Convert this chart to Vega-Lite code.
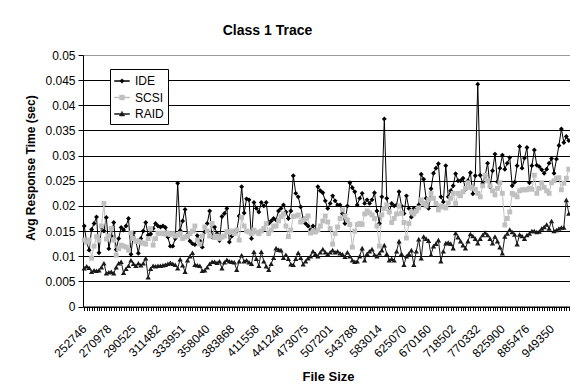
{
"$schema": "https://vega.github.io/schema/vega-lite/v6.json",
"width": 487,
"height": 251.5,
"autosize": {"type": "none"},
"padding": {"left": 83, "top": 55, "right": 0, "bottom": 85.5},
"background": "white",
"config": {"font": "Liberation Sans", "view": {"stroke": null}},
"title": {"text": "Class 1 Trace", "font": "Liberation Sans", "fontSize": 14, "fontWeight": "bold", "color": "#000", "anchor": "middle", "frame": "group", "dx": -59, "offset": 11},
"data": {"values": [
{"size":252746,"IDE":0.0160,"SCSI":0.0132,"RAID":0.0076},
{"size":254513,"IDE":0.0128,"SCSI":0.0128,"RAID":0.0080},
{"size":256292,"IDE":0.0112,"SCSI":0.0132,"RAID":0.0077},
{"size":258084,"IDE":0.0153,"SCSI":0.0096,"RAID":0.0069},
{"size":259889,"IDE":0.0165,"SCSI":0.0120,"RAID":0.0072},
{"size":261703,"IDE":0.0178,"SCSI":0.0139,"RAID":0.0071},
{"size":263533,"IDE":0.0107,"SCSI":0.0132,"RAID":0.0072},
{"size":265376,"IDE":0.0158,"SCSI":0.0160,"RAID":0.0078},
{"size":267231,"IDE":0.0150,"SCSI":0.0205,"RAID":0.0086},
{"size":269099,"IDE":0.0177,"SCSI":0.0134,"RAID":0.0066},
{"size":270978,"IDE":0.0115,"SCSI":0.0140,"RAID":0.0068},
{"size":272872,"IDE":0.0140,"SCSI":0.0155,"RAID":0.0069},
{"size":274780,"IDE":0.0167,"SCSI":0.0132,"RAID":0.0066},
{"size":276701,"IDE":0.0113,"SCSI":0.0102,"RAID":0.0078},
{"size":278636,"IDE":0.0135,"SCSI":0.0115,"RAID":0.0086},
{"size":280582,"IDE":0.0157,"SCSI":0.0122,"RAID":0.0089},
{"size":282543,"IDE":0.0152,"SCSI":0.0120,"RAID":0.0067},
{"size":284519,"IDE":0.0160,"SCSI":0.0118,"RAID":0.0075},
{"size":286508,"IDE":0.0175,"SCSI":0.0112,"RAID":0.0081},
{"size":288510,"IDE":0.0104,"SCSI":0.0146,"RAID":0.0092},
{"size":290525,"IDE":0.0146,"SCSI":0.0135,"RAID":0.0085},
{"size":292556,"IDE":0.0130,"SCSI":0.0130,"RAID":0.0081},
{"size":294601,"IDE":0.0106,"SCSI":0.0130,"RAID":0.0086},
{"size":296661,"IDE":0.0135,"SCSI":0.0128,"RAID":0.0082},
{"size":298735,"IDE":0.0150,"SCSI":0.0126,"RAID":0.0086},
{"size":300821,"IDE":0.0167,"SCSI":0.0124,"RAID":0.0096},
{"size":302925,"IDE":0.0142,"SCSI":0.0135,"RAID":0.0058},
{"size":305043,"IDE":0.0144,"SCSI":0.0155,"RAID":0.0075},
{"size":307175,"IDE":0.0155,"SCSI":0.0122,"RAID":0.0081},
{"size":309322,"IDE":0.0165,"SCSI":0.0135,"RAID":0.0080},
{"size":311482,"IDE":0.0160,"SCSI":0.0146,"RAID":0.0081},
{"size":313659,"IDE":0.0158,"SCSI":0.0145,"RAID":0.0081},
{"size":315852,"IDE":0.0160,"SCSI":0.0146,"RAID":0.0082},
{"size":318061,"IDE":0.0157,"SCSI":0.0144,"RAID":0.0083},
{"size":320285,"IDE":0.0138,"SCSI":0.0146,"RAID":0.0085},
{"size":322521,"IDE":0.0120,"SCSI":0.0143,"RAID":0.0087},
{"size":324776,"IDE":0.0120,"SCSI":0.0145,"RAID":0.0085},
{"size":327047,"IDE":0.0135,"SCSI":0.0140,"RAID":0.0083},
{"size":329333,"IDE":0.0245,"SCSI":0.0142,"RAID":0.0076},
{"size":331635,"IDE":0.0151,"SCSI":0.0145,"RAID":0.0094},
{"size":333951,"IDE":0.0170,"SCSI":0.0135,"RAID":0.0082},
{"size":336285,"IDE":0.0193,"SCSI":0.0138,"RAID":0.0069},
{"size":338636,"IDE":0.0143,"SCSI":0.0140,"RAID":0.0092},
{"size":341004,"IDE":0.0130,"SCSI":0.0145,"RAID":0.0100},
{"size":343389,"IDE":0.0125,"SCSI":0.0150,"RAID":0.0107},
{"size":345786,"IDE":0.0123,"SCSI":0.0160,"RAID":0.0083},
{"size":348204,"IDE":0.0141,"SCSI":0.0132,"RAID":0.0082},
{"size":350639,"IDE":0.0130,"SCSI":0.0124,"RAID":0.0081},
{"size":353090,"IDE":0.0118,"SCSI":0.0140,"RAID":0.0071},
{"size":355558,"IDE":0.0148,"SCSI":0.0158,"RAID":0.0072},
{"size":358040,"IDE":0.0165,"SCSI":0.0150,"RAID":0.0078},
{"size":360543,"IDE":0.0190,"SCSI":0.0140,"RAID":0.0085},
{"size":363063,"IDE":0.0138,"SCSI":0.0165,"RAID":0.0089},
{"size":365602,"IDE":0.0158,"SCSI":0.0137,"RAID":0.0089},
{"size":368158,"IDE":0.0145,"SCSI":0.0140,"RAID":0.0087},
{"size":370729,"IDE":0.0131,"SCSI":0.0135,"RAID":0.0090},
{"size":373321,"IDE":0.0179,"SCSI":0.0138,"RAID":0.0076},
{"size":375931,"IDE":0.0185,"SCSI":0.0140,"RAID":0.0088},
{"size":378559,"IDE":0.0195,"SCSI":0.0149,"RAID":0.0093},
{"size":381205,"IDE":0.0128,"SCSI":0.0148,"RAID":0.0090},
{"size":383868,"IDE":0.0140,"SCSI":0.0150,"RAID":0.0089},
{"size":386551,"IDE":0.0148,"SCSI":0.0145,"RAID":0.0088},
{"size":389254,"IDE":0.0150,"SCSI":0.0152,"RAID":0.0073},
{"size":391975,"IDE":0.0180,"SCSI":0.0132,"RAID":0.0090},
{"size":394716,"IDE":0.0238,"SCSI":0.0177,"RAID":0.0102},
{"size":397472,"IDE":0.0186,"SCSI":0.0160,"RAID":0.0090},
{"size":400251,"IDE":0.0214,"SCSI":0.0150,"RAID":0.0092},
{"size":403050,"IDE":0.0212,"SCSI":0.0148,"RAID":0.0088},
{"size":405867,"IDE":0.0135,"SCSI":0.0145,"RAID":0.0085},
{"size":408704,"IDE":0.0207,"SCSI":0.0152,"RAID":0.0109},
{"size":411558,"IDE":0.0195,"SCSI":0.0148,"RAID":0.0095},
{"size":414435,"IDE":0.0188,"SCSI":0.0145,"RAID":0.0081},
{"size":417332,"IDE":0.0207,"SCSI":0.0150,"RAID":0.0109},
{"size":420250,"IDE":0.0200,"SCSI":0.0155,"RAID":0.0090},
{"size":423189,"IDE":0.0207,"SCSI":0.0165,"RAID":0.0080},
{"size":426144,"IDE":0.0165,"SCSI":0.0145,"RAID":0.0073},
{"size":429123,"IDE":0.0170,"SCSI":0.0152,"RAID":0.0085},
{"size":432124,"IDE":0.0175,"SCSI":0.0160,"RAID":0.0097},
{"size":435144,"IDE":0.0172,"SCSI":0.0160,"RAID":0.0116},
{"size":438186,"IDE":0.0190,"SCSI":0.0170,"RAID":0.0113},
{"size":441246,"IDE":0.0195,"SCSI":0.0179,"RAID":0.0112},
{"size":444330,"IDE":0.0202,"SCSI":0.0184,"RAID":0.0097},
{"size":447437,"IDE":0.0188,"SCSI":0.0160,"RAID":0.0103},
{"size":450565,"IDE":0.0175,"SCSI":0.0139,"RAID":0.0095},
{"size":453716,"IDE":0.0190,"SCSI":0.0152,"RAID":0.0084},
{"size":456884,"IDE":0.0260,"SCSI":0.0179,"RAID":0.0083},
{"size":460078,"IDE":0.0225,"SCSI":0.0180,"RAID":0.0095},
{"size":463295,"IDE":0.0218,"SCSI":0.0182,"RAID":0.0107},
{"size":466534,"IDE":0.0198,"SCSI":0.0168,"RAID":0.0097},
{"size":469795,"IDE":0.0175,"SCSI":0.0172,"RAID":0.0084},
{"size":473075,"IDE":0.0165,"SCSI":0.0175,"RAID":0.0090},
{"size":476382,"IDE":0.0160,"SCSI":0.0180,"RAID":0.0096},
{"size":479712,"IDE":0.0152,"SCSI":0.0146,"RAID":0.0100},
{"size":483066,"IDE":0.0160,"SCSI":0.0150,"RAID":0.0110},
{"size":486444,"IDE":0.0149,"SCSI":0.0148,"RAID":0.0105},
{"size":489841,"IDE":0.0238,"SCSI":0.0152,"RAID":0.0100},
{"size":493266,"IDE":0.0230,"SCSI":0.0160,"RAID":0.0108},
{"size":496715,"IDE":0.0226,"SCSI":0.0170,"RAID":0.0114},
{"size":500188,"IDE":0.0210,"SCSI":0.0180,"RAID":0.0108},
{"size":503683,"IDE":0.0195,"SCSI":0.0168,"RAID":0.0104},
{"size":507201,"IDE":0.0205,"SCSI":0.0155,"RAID":0.0108},
{"size":510746,"IDE":0.0220,"SCSI":0.0124,"RAID":0.0112},
{"size":514317,"IDE":0.0210,"SCSI":0.0145,"RAID":0.0108},
{"size":517913,"IDE":0.0202,"SCSI":0.0158,"RAID":0.0110},
{"size":521535,"IDE":0.0202,"SCSI":0.0175,"RAID":0.0106},
{"size":525176,"IDE":0.0185,"SCSI":0.0192,"RAID":0.0104},
{"size":528848,"IDE":0.0165,"SCSI":0.0180,"RAID":0.0099},
{"size":532546,"IDE":0.0200,"SCSI":0.0172,"RAID":0.0108},
{"size":536269,"IDE":0.0246,"SCSI":0.0163,"RAID":0.0100},
{"size":540017,"IDE":0.0236,"SCSI":0.0118,"RAID":0.0092},
{"size":543788,"IDE":0.0228,"SCSI":0.0150,"RAID":0.0089},
{"size":547589,"IDE":0.0202,"SCSI":0.0163,"RAID":0.0090},
{"size":551417,"IDE":0.0215,"SCSI":0.0165,"RAID":0.0100},
{"size":555273,"IDE":0.0225,"SCSI":0.0163,"RAID":0.0116},
{"size":559156,"IDE":0.0205,"SCSI":0.0184,"RAID":0.0092},
{"size":563060,"IDE":0.0212,"SCSI":0.0190,"RAID":0.0105},
{"size":566997,"IDE":0.0205,"SCSI":0.0186,"RAID":0.0110},
{"size":570961,"IDE":0.0212,"SCSI":0.0182,"RAID":0.0114},
{"size":574953,"IDE":0.0226,"SCSI":0.0175,"RAID":0.0103},
{"size":578971,"IDE":0.0190,"SCSI":0.0160,"RAID":0.0100},
{"size":583014,"IDE":0.0165,"SCSI":0.0120,"RAID":0.0106},
{"size":587089,"IDE":0.0218,"SCSI":0.0182,"RAID":0.0112},
{"size":591194,"IDE":0.0373,"SCSI":0.0195,"RAID":0.0122},
{"size":595327,"IDE":0.0215,"SCSI":0.0202,"RAID":0.0105},
{"size":599490,"IDE":0.0188,"SCSI":0.0188,"RAID":0.0092},
{"size":603676,"IDE":0.0205,"SCSI":0.0167,"RAID":0.0095},
{"size":607897,"IDE":0.0200,"SCSI":0.0175,"RAID":0.0092},
{"size":612147,"IDE":0.0202,"SCSI":0.0184,"RAID":0.0110},
{"size":616427,"IDE":0.0228,"SCSI":0.0200,"RAID":0.0130},
{"size":620735,"IDE":0.0200,"SCSI":0.0185,"RAID":0.0105},
{"size":625070,"IDE":0.0185,"SCSI":0.0167,"RAID":0.0083},
{"size":629439,"IDE":0.0220,"SCSI":0.0136,"RAID":0.0100},
{"size":633840,"IDE":0.0195,"SCSI":0.0165,"RAID":0.0105},
{"size":638272,"IDE":0.0178,"SCSI":0.0188,"RAID":0.0112},
{"size":642735,"IDE":0.0195,"SCSI":0.0184,"RAID":0.0083},
{"size":647223,"IDE":0.0190,"SCSI":0.0190,"RAID":0.0110},
{"size":651748,"IDE":0.0202,"SCSI":0.0196,"RAID":0.0134},
{"size":656305,"IDE":0.0263,"SCSI":0.0212,"RAID":0.0096},
{"size":660893,"IDE":0.0253,"SCSI":0.0205,"RAID":0.0139},
{"size":665512,"IDE":0.0215,"SCSI":0.0200,"RAID":0.0135},
{"size":670160,"IDE":0.0195,"SCSI":0.0212,"RAID":0.0131},
{"size":674844,"IDE":0.0234,"SCSI":0.0225,"RAID":0.0103},
{"size":679562,"IDE":0.0265,"SCSI":0.0215,"RAID":0.0120},
{"size":684314,"IDE":0.0275,"SCSI":0.0205,"RAID":0.0125},
{"size":689099,"IDE":0.0284,"SCSI":0.0192,"RAID":0.0132},
{"size":693911,"IDE":0.0218,"SCSI":0.0200,"RAID":0.0090},
{"size":698762,"IDE":0.0208,"SCSI":0.0198,"RAID":0.0110},
{"size":703648,"IDE":0.0280,"SCSI":0.0196,"RAID":0.0126},
{"size":708567,"IDE":0.0218,"SCSI":0.0206,"RAID":0.0127},
{"size":713519,"IDE":0.0230,"SCSI":0.0215,"RAID":0.0125},
{"size":718502,"IDE":0.0240,"SCSI":0.0225,"RAID":0.0116},
{"size":723524,"IDE":0.0264,"SCSI":0.0205,"RAID":0.0146},
{"size":728583,"IDE":0.0250,"SCSI":0.0225,"RAID":0.0138},
{"size":733677,"IDE":0.0250,"SCSI":0.0220,"RAID":0.0130},
{"size":738807,"IDE":0.0255,"SCSI":0.0228,"RAID":0.0122},
{"size":743966,"IDE":0.0233,"SCSI":0.0235,"RAID":0.0116},
{"size":749168,"IDE":0.0250,"SCSI":0.0246,"RAID":0.0130},
{"size":754406,"IDE":0.0266,"SCSI":0.0237,"RAID":0.0144},
{"size":759679,"IDE":0.0224,"SCSI":0.0235,"RAID":0.0140},
{"size":764989,"IDE":0.0260,"SCSI":0.0233,"RAID":0.0135},
{"size":770332,"IDE":0.0442,"SCSI":0.0225,"RAID":0.0126},
{"size":775717,"IDE":0.0261,"SCSI":0.0218,"RAID":0.0135},
{"size":781140,"IDE":0.0245,"SCSI":0.0240,"RAID":0.0142},
{"size":786601,"IDE":0.0260,"SCSI":0.0261,"RAID":0.0147},
{"size":792102,"IDE":0.0285,"SCSI":0.0250,"RAID":0.0142},
{"size":797633,"IDE":0.0238,"SCSI":0.0240,"RAID":0.0135},
{"size":803210,"IDE":0.0270,"SCSI":0.0230,"RAID":0.0126},
{"size":808826,"IDE":0.0303,"SCSI":0.0222,"RAID":0.0139},
{"size":814480,"IDE":0.0248,"SCSI":0.0235,"RAID":0.0130},
{"size":820173,"IDE":0.0275,"SCSI":0.0246,"RAID":0.0118},
{"size":825900,"IDE":0.0301,"SCSI":0.0225,"RAID":0.0106},
{"size":831673,"IDE":0.0273,"SCSI":0.0162,"RAID":0.0139},
{"size":837487,"IDE":0.0285,"SCSI":0.0175,"RAID":0.0145},
{"size":843343,"IDE":0.0296,"SCSI":0.0188,"RAID":0.0153},
{"size":849240,"IDE":0.0240,"SCSI":0.0225,"RAID":0.0148},
{"size":855170,"IDE":0.0247,"SCSI":0.0222,"RAID":0.0143},
{"size":861149,"IDE":0.0280,"SCSI":0.0218,"RAID":0.0124},
{"size":867170,"IDE":0.0318,"SCSI":0.0230,"RAID":0.0143},
{"size":873232,"IDE":0.0275,"SCSI":0.0232,"RAID":0.0140},
{"size":879336,"IDE":0.0295,"SCSI":0.0232,"RAID":0.0135},
{"size":885476,"IDE":0.0316,"SCSI":0.0232,"RAID":0.0142},
{"size":891665,"IDE":0.0246,"SCSI":0.0235,"RAID":0.0145},
{"size":897899,"IDE":0.0280,"SCSI":0.0233,"RAID":0.0150},
{"size":904177,"IDE":0.0311,"SCSI":0.0261,"RAID":0.0150},
{"size":910500,"IDE":0.0281,"SCSI":0.0225,"RAID":0.0148},
{"size":916857,"IDE":0.0278,"SCSI":0.0235,"RAID":0.0149},
{"size":923268,"IDE":0.0272,"SCSI":0.0246,"RAID":0.0155},
{"size":929723,"IDE":0.0265,"SCSI":0.0237,"RAID":0.0158},
{"size":936223,"IDE":0.0273,"SCSI":0.0230,"RAID":0.0163},
{"size":942766,"IDE":0.0285,"SCSI":0.0225,"RAID":0.0155},
{"size":949350,"IDE":0.0294,"SCSI":0.0246,"RAID":0.0170},
{"size":955986,"IDE":0.0265,"SCSI":0.0250,"RAID":0.0150},
{"size":962669,"IDE":0.0293,"SCSI":0.0255,"RAID":0.0152},
{"size":969400,"IDE":0.0320,"SCSI":0.0256,"RAID":0.0155},
{"size":976179,"IDE":0.0353,"SCSI":0.0232,"RAID":0.0157},
{"size":982995,"IDE":0.0326,"SCSI":0.0245,"RAID":0.0157},
{"size":989868,"IDE":0.0338,"SCSI":0.0255,"RAID":0.0212},
{"size":996789,"IDE":0.0330,"SCSI":0.0273,"RAID":0.0185}
]},
"transform": [{"fold": ["IDE", "SCSI", "RAID"], "as": ["series", "time"]}],
"encoding": {
  "x": {"field": "size", "type": "ordinal", "scale": {"type": "point", "padding": 0.5},
    "axis": {"title": "File Size", "titleFont": "Liberation Sans", "titleFontSize": 13, "titleFontWeight": "bold", "titleColor": "#000",
      "titleX": 245, "titleY": 69.5, "titleAlign": "center", "titleBaseline": "middle", "titleAnchor": null,
      "labelAngle": -45, "labelAlign": "right", "labelBaseline": "middle", "labelPadding": 16,
      "labelFont": "Liberation Sans", "labelFontSize": 12, "labelColor": "#000",
      "labelOverlap": false, "labelFlush": false, "labelBound": false,
      "labelExpr": "indexof([252746,270978,290525,311482,333951,358040,383868,411558,441246,473075,507201,543788,583014,625070,670160,718502,770332,825900,885476,949350], datum.value) >= 0 ? datum.label : ''",
      "tickColor": "#000", "tickSize": 4, "domainColor": "#000", "grid": false}},
  "y": {"field": "time", "type": "quantitative", "scale": {"domain": [0, 0.05], "nice": false},
    "axis": {"title": "Avg Response Time (sec)", "titleFont": "Liberation Sans", "titleFontSize": 12, "titleFontWeight": "bold", "titleColor": "#000",
      "titleX": -53, "titleY": 112.5, "titleAlign": "center", "titleBaseline": "middle", "titleAngle": 270, "titleAnchor": null,
      "values": [0, 0.005, 0.01, 0.015, 0.02, 0.025, 0.03, 0.035, 0.04, 0.045, 0.05],
      "format": ".3~f", "labelFont": "Liberation Sans", "labelFontSize": 12, "labelColor": "#000", "labelPadding": 3,
      "tickSize": 5, "tickColor": "#000", "domainColor": "#000",
      "grid": true, "gridColor": {"condition": {"test": "datum.value >= 0.05", "value": "#999999"}, "value": "#000000"}, "gridOpacity": 1, "gridWidth": 1}},
  "color": {"field": "series", "type": "nominal",
    "scale": {"domain": ["IDE", "SCSI", "RAID"], "range": ["#000000", "#c0c0c0", "#1a1a1a"]},
    "legend": {"title": null, "orient": "none", "legendX": 27, "legendY": 14, "direction": "vertical",
      "strokeColor": "#000", "fillColor": "#fff", "padding": 4, "rowPadding": 2.5, "labelOffset": 5,
      "labelFont": "Liberation Sans", "labelFontSize": 12, "labelColor": "#000",
      "symbolSize": 225, "symbolStrokeWidth": 0.5, "symbolOpacity": 1}}
},
"layer": [
  {"mark": {"type": "line", "strokeWidth": 1}},
  {"transform": [{"filter": "datum.series == 'IDE'"}],
   "mark": {"type": "point", "shape": "diamond", "filled": true, "opacity": 1, "size": 24, "strokeWidth": 0}},
  {"transform": [{"filter": "datum.series == 'SCSI'"}],
   "mark": {"type": "point", "shape": "square", "filled": true, "opacity": 1, "size": 24, "strokeWidth": 0}},
  {"transform": [{"filter": "datum.series == 'RAID'"}],
   "mark": {"type": "point", "shape": "triangle-up", "filled": true, "opacity": 1, "size": 28, "strokeWidth": 0}},
  {"transform": [{"filter": "datum.size == 252746"}],
   "mark": {"type": "point", "filled": true, "opacity": 0},
   "encoding": {"shape": {"field": "series", "type": "nominal",
     "scale": {"domain": ["IDE", "SCSI", "RAID"], "range": [
       "M-1,-0.067H1V0.067H-1ZM0,-0.3L0.3,0L0,0.3L-0.3,0Z",
       "M-1,-0.067H1V0.067H-1ZM-0.32,-0.32H0.32V0.32H-0.32Z",
       "M-1,-0.067H1V0.067H-1ZM0,-0.36L0.36,0.26H-0.36Z"]},
     "legend": {"title": null, "orient": "none", "legendX": 27, "legendY": 14, "direction": "vertical",
      "strokeColor": "#000", "fillColor": "#fff", "padding": 4, "rowPadding": 2.5, "labelOffset": 5,
      "labelFont": "Liberation Sans", "labelFontSize": 12, "labelColor": "#000",
      "symbolSize": 225, "symbolStrokeWidth": 0.5, "symbolOpacity": 1}}}}
]
}
